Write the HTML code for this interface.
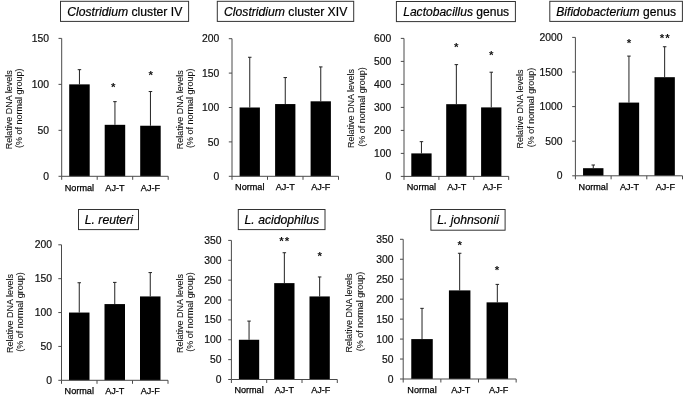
<!DOCTYPE html>
<html><head><meta charset="utf-8"><title>Relative DNA levels</title>
<style>
html,body{margin:0;padding:0;background:#fff;}
svg{display:block;filter:grayscale(1);font-family:"Liberation Sans",sans-serif;}
.t{font-size:12.2px;fill:#000;stroke:#000;stroke-width:0.2;}
.k{font-size:10.35px;fill:#111;stroke:#111;stroke-width:0.2;text-anchor:end;}
.x{font-size:9.1px;fill:#000;stroke:#000;stroke-width:0.25;text-anchor:middle;}
.y{font-size:9px;fill:#111;stroke:#111;stroke-width:0.08;text-anchor:middle;}
.s{font-size:11.5px;font-weight:bold;fill:#111;text-anchor:middle;letter-spacing:1.0px;}
.a{stroke:#4a4a4a;stroke-width:1;fill:none;}
.e{stroke:#222;stroke-width:1;fill:none;}
.b{fill:#000;}
.bx{fill:#fff;stroke:#333;stroke-width:1;}
</style></head><body>
<svg width="685" height="398" viewBox="0 0 685 398">
<rect width="685" height="398" fill="#fff"/>

<g>
<rect class="bx" x="60.5" y="1.3" width="128.1" height="20.1"/>
<text class="t" x="67.2" y="15.9"><tspan font-style="italic">Clostridium</tspan>&#160;cluster IV</text>
<text class="y" transform="translate(11.7 109.8) rotate(-90)">Relative DNA levels</text>
<text class="y" transform="translate(22.4 108.3) rotate(-90)">(% of normal group)</text>
<path class="e" d="M79.45 84.37V69.66M77.7 69.66H81.2"/>
<rect class="b" x="69.2" y="84.37" width="20.5" height="91.93"/>
<path class="e" d="M114.95 124.82V101.65M113.2 101.65H116.7"/>
<rect class="b" x="104.7" y="124.82" width="20.5" height="51.48"/>
<text class="s" x="113.85" y="90.8">*</text>
<path class="e" d="M150.45 125.74V91.54M148.7 91.54H152.2"/>
<rect class="b" x="140.2" y="125.74" width="20.5" height="50.56"/>
<text class="s" x="151.15" y="79.2">*</text>
<path class="a" d="M61.7 38.4V176.3H168.2M58.5 176.3H61.7M58.5 130.33H61.7M58.5 84.37H61.7M58.5 38.4H61.7M61.7 176.3V179.8M97.2 176.3V179.8M132.7 176.3V179.8M168.2 176.3V179.8"/>
<text class="k" x="48.9" y="179.9">0</text>
<text class="k" x="48.9" y="133.93">50</text>
<text class="k" x="48.9" y="87.97">100</text>
<text class="k" x="48.9" y="42">150</text>
<text class="x" x="79.45" y="190.6">Normal</text>
<text class="x" x="114.95" y="190.6">AJ-T</text>
<text class="x" x="150.45" y="190.6">AJ-F</text>
</g>
<g>
<rect class="bx" x="217.3" y="1.3" width="136.4" height="20.1"/>
<text class="t" x="224" y="15.9"><tspan font-style="italic">Clostridium</tspan>&#160;cluster XIV</text>
<text class="y" transform="translate(182.8 109.8) rotate(-90)">Relative DNA levels</text>
<text class="y" transform="translate(193 108.3) rotate(-90)">(% of normal group)</text>
<path class="e" d="M249.75 107.5V57.28M248 57.28H251.5"/>
<rect class="b" x="239.6" y="107.5" width="20.3" height="68.8"/>
<path class="e" d="M285.25 104.06V77.57M283.5 77.57H287"/>
<rect class="b" x="275.1" y="104.06" width="20.3" height="72.24"/>
<path class="e" d="M320.75 101.31V66.91M319 66.91H322.5"/>
<rect class="b" x="310.6" y="101.31" width="20.3" height="74.99"/>
<path class="a" d="M232 38.7V176.3H338.5M228.8 176.3H232M228.8 141.9H232M228.8 107.5H232M228.8 73.1H232M228.8 38.7H232M232 176.3V179.8M267.5 176.3V179.8M303 176.3V179.8M338.5 176.3V179.8"/>
<text class="k" x="219.2" y="179.9">0</text>
<text class="k" x="219.2" y="145.5">50</text>
<text class="k" x="219.2" y="111.1">100</text>
<text class="k" x="219.2" y="76.7">150</text>
<text class="k" x="219.2" y="42.3">200</text>
<text class="x" x="249.75" y="190.4">Normal</text>
<text class="x" x="285.25" y="190.4">AJ-T</text>
<text class="x" x="320.75" y="190.4">AJ-F</text>
</g>
<g>
<rect class="bx" x="396.4" y="1.5" width="119" height="20.1"/>
<text class="t" style="font-size:12.07px" x="403.2" y="16.1"><tspan font-style="italic">Lactobacillus</tspan>&#160;genus</text>
<text class="y" transform="translate(354 108.6) rotate(-90)">Relative DNA levels</text>
<text class="y" transform="translate(364.6 107.1) rotate(-90)">(% of normal group)</text>
<path class="e" d="M421.45 153.4V141.67M419.7 141.67H423.2"/>
<rect class="b" x="411.3" y="153.4" width="20.3" height="23"/>
<path class="e" d="M456.35 104.18V64.62M454.6 64.62H458.1"/>
<rect class="b" x="446.2" y="104.18" width="20.3" height="72.22"/>
<text class="s" x="456.85" y="51.4">*</text>
<path class="e" d="M491.25 107.4V72.21M489.5 72.21H493"/>
<rect class="b" x="481.1" y="107.4" width="20.3" height="69"/>
<text class="s" x="491.75" y="59.3">*</text>
<path class="a" d="M404 38.4V176.4H508.7M400.8 176.4H404M400.8 153.4H404M400.8 130.4H404M400.8 107.4H404M400.8 84.4H404M400.8 61.4H404M400.8 38.4H404M404 176.4V179.9M438.9 176.4V179.9M473.8 176.4V179.9M508.7 176.4V179.9"/>
<text class="k" x="391.3" y="180">0</text>
<text class="k" x="391.3" y="157">100</text>
<text class="k" x="391.3" y="134">200</text>
<text class="k" x="391.3" y="111">300</text>
<text class="k" x="391.3" y="88">400</text>
<text class="k" x="391.3" y="65">500</text>
<text class="k" x="391.3" y="42">600</text>
<text class="x" x="421.45" y="190.2">Normal</text>
<text class="x" x="456.8" y="190.2">AJ-T</text>
<text class="x" x="492.35" y="190.2">AJ-F</text>
</g>
<g>
<rect class="bx" x="549.8" y="1.3" width="132.6" height="20.1"/>
<text class="t" style="font-size:12.1px" x="556.3" y="15.9"><tspan font-style="italic">Bifidobacterium</tspan>&#160;genus</text>
<text class="y" transform="translate(522.7 109) rotate(-90)">Relative DNA levels</text>
<text class="y" transform="translate(533.5 107.5) rotate(-90)">(% of normal group)</text>
<path class="e" d="M593.25 168.19V165M591.5 165H595"/>
<rect class="b" x="583.05" y="168.19" width="20.4" height="7.61"/>
<path class="e" d="M628.95 102.59V56.08M627.2 56.08H630.7"/>
<rect class="b" x="618.75" y="102.59" width="20.4" height="73.21"/>
<text class="s" x="629.45" y="47">*</text>
<path class="e" d="M664.65 77.19V46.74M662.9 46.74H666.4"/>
<rect class="b" x="654.45" y="77.19" width="20.4" height="98.61"/>
<text class="s" x="665.15" y="42">**</text>
<path class="a" d="M575.4 37.4V175.8H682.5M572.2 175.8H575.4M572.2 141.2H575.4M572.2 106.6H575.4M572.2 72H575.4M572.2 37.4H575.4M575.4 175.8V179.3M611.1 175.8V179.3M646.8 175.8V179.3M682.5 175.8V179.3"/>
<text class="k" x="562.6" y="179.4">0</text>
<text class="k" x="562.6" y="144.8">500</text>
<text class="k" x="562.6" y="110.2">1000</text>
<text class="k" x="562.6" y="75.6">1500</text>
<text class="k" x="562.6" y="41">2000</text>
<text class="x" x="593.25" y="189.9">Normal</text>
<text class="x" x="629.55" y="189.9">AJ-T</text>
<text class="x" x="665.35" y="189.9">AJ-F</text>
</g>
<g>
<rect class="bx" x="78.5" y="209.5" width="60" height="20.1"/>
<text class="t" x="84.8" y="224.1"><tspan font-style="italic">L. reuteri</tspan></text>
<text class="y" transform="translate(12.6 313.5) rotate(-90)">Relative DNA levels</text>
<text class="y" transform="translate(22.8 312) rotate(-90)">(% of normal group)</text>
<path class="e" d="M79.25 312.55V282.74M77.5 282.74H81"/>
<rect class="b" x="69" y="312.55" width="20.5" height="67.75"/>
<path class="e" d="M114.75 304.08V282.4M113 282.4H116.5"/>
<rect class="b" x="104.5" y="304.08" width="20.5" height="76.22"/>
<path class="e" d="M150.25 296.43V272.58M148.5 272.58H152"/>
<rect class="b" x="140" y="296.43" width="20.5" height="83.87"/>
<path class="a" d="M61.5 244.8V380.3H168M58.3 380.3H61.5M58.3 346.43H61.5M58.3 312.55H61.5M58.3 278.68H61.5M58.3 244.8H61.5M61.5 380.3V383.8M97 380.3V383.8M132.5 380.3V383.8M168 380.3V383.8"/>
<text class="k" x="51.9" y="383.9">0</text>
<text class="k" x="51.9" y="350.03">50</text>
<text class="k" x="51.9" y="316.15">100</text>
<text class="k" x="51.9" y="282.28">150</text>
<text class="k" x="51.9" y="248.4">200</text>
<text class="x" x="79.25" y="393.7">Normal</text>
<text class="x" x="114.75" y="393.7">AJ-T</text>
<text class="x" x="150.25" y="393.7">AJ-F</text>
</g>
<g>
<rect class="bx" x="238.3" y="209.5" width="86.7" height="20.1"/>
<text class="t" x="244.6" y="224.1"><tspan font-style="italic">L. acidophilus</tspan></text>
<text class="y" transform="translate(182.8 313.5) rotate(-90)">Relative DNA levels</text>
<text class="y" transform="translate(193 312) rotate(-90)">(% of normal group)</text>
<path class="e" d="M249.05 339.76V321.08M247.3 321.08H250.8"/>
<rect class="b" x="238.9" y="339.76" width="20.3" height="39.74"/>
<path class="e" d="M284.35 283.12V252.72M282.6 252.72H286.1"/>
<rect class="b" x="274.2" y="283.12" width="20.3" height="96.38"/>
<text class="s" x="284.85" y="245">**</text>
<path class="e" d="M319.65 296.44V276.96M317.9 276.96H321.4"/>
<rect class="b" x="309.5" y="296.44" width="20.3" height="83.06"/>
<text class="s" x="320.15" y="259.8">*</text>
<path class="a" d="M231.4 240.4V379.5H337.3M228.2 379.5H231.4M228.2 359.63H231.4M228.2 339.76H231.4M228.2 319.89H231.4M228.2 300.01H231.4M228.2 280.14H231.4M228.2 260.27H231.4M228.2 240.4H231.4M231.4 379.5V383M266.7 379.5V383M302 379.5V383M337.3 379.5V383"/>
<text class="k" x="221.6" y="383.1">0</text>
<text class="k" x="221.6" y="363.23">50</text>
<text class="k" x="221.6" y="343.36">100</text>
<text class="k" x="221.6" y="323.49">150</text>
<text class="k" x="221.6" y="303.61">200</text>
<text class="k" x="221.6" y="283.74">250</text>
<text class="k" x="221.6" y="263.87">300</text>
<text class="k" x="221.6" y="244">350</text>
<text class="x" x="249.05" y="393">Normal</text>
<text class="x" x="284.35" y="393">AJ-T</text>
<text class="x" x="320.75" y="393">AJ-F</text>
</g>
<g>
<rect class="bx" x="430.9" y="209.5" width="74.2" height="20.7"/>
<text class="t" x="437.2" y="224.1"><tspan font-style="italic">L. johnsonii</tspan></text>
<text class="y" transform="translate(352 313) rotate(-90)">Relative DNA levels</text>
<text class="y" transform="translate(363 311.5) rotate(-90)">(% of normal group)</text>
<path class="e" d="M422.02 339.09V308.35M420.27 308.35H423.77"/>
<rect class="b" x="411.27" y="339.09" width="21.5" height="39.91"/>
<path class="e" d="M459.67 290.39V253.27M457.92 253.27H461.42"/>
<rect class="b" x="448.92" y="290.39" width="21.5" height="88.61"/>
<text class="s" x="460.17" y="249.3">*</text>
<path class="e" d="M497.32 302.36V284.4M495.57 284.4H499.07"/>
<rect class="b" x="486.57" y="302.36" width="21.5" height="76.64"/>
<text class="s" x="497.52" y="274.2">*</text>
<path class="a" d="M403.2 239.3V379H516.15M400 379H403.2M400 359.04H403.2M400 339.09H403.2M400 319.13H403.2M400 299.17H403.2M400 279.21H403.2M400 259.26H403.2M400 239.3H403.2M403.2 379V382.5M440.85 379V382.5M478.5 379V382.5M516.15 379V382.5"/>
<text class="k" x="393.5" y="382.6">0</text>
<text class="k" x="393.5" y="362.64">50</text>
<text class="k" x="393.5" y="342.69">100</text>
<text class="k" x="393.5" y="322.73">150</text>
<text class="k" x="393.5" y="302.77">200</text>
<text class="k" x="393.5" y="282.81">250</text>
<text class="k" x="393.5" y="262.86">300</text>
<text class="k" x="393.5" y="242.9">350</text>
<text class="x" x="422.02" y="393">Normal</text>
<text class="x" x="460.77" y="393">AJ-T</text>
<text class="x" x="498.72" y="393">AJ-F</text>
</g>
</svg></body></html>
